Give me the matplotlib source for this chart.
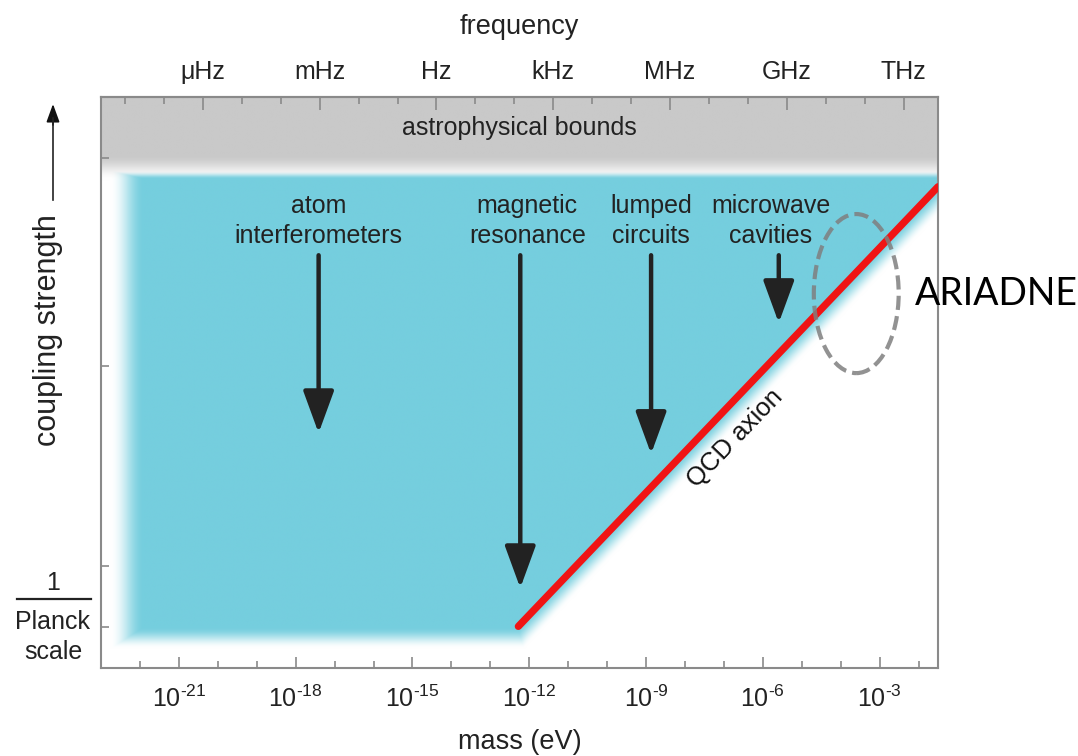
import numpy as np
import matplotlib
matplotlib.use('Agg')
import matplotlib.pyplot as plt
from matplotlib.patches import Ellipse
from matplotlib.lines import Line2D

plt.rcParams['font.family'] = ['Liberation Sans', 'DejaVu Sans']
plt.rcParams['mathtext.fontset'] = 'custom'
plt.rcParams['mathtext.rm'] = 'Liberation Sans'
plt.rcParams['mathtext.it'] = 'Liberation Sans:italic'

# axis ranges: log10 mass [eV] and log10 coupling relative to 1/M_Planck
mass_lim = (-23.0, -1.5)
coup_lim = (-1.0, 13.0)
mass_ticks = [-21, -18, -15, -12, -9, -6, -3]
coup_ticks = [0.0, 1.5, 6.4, 11.5]

# frequency axis: log10(Hz) = log10(eV) + log10(2.418e14)
ev_to_hz = np.log10(2.418e14)
freq_ticks = [-6, -3, 0, 3, 6, 9, 12]
freq_labels = ['μHz', 'mHz', 'Hz', 'kHz', 'MHz', 'GHz', 'THz']

# searchable region and astrophysical limit
region_left = -21.9
region_bottom = 0.0
region_top = 11.0
astro_bound = 11.6

# QCD axion band: g ~ m
qcd_mass = [-12.28, -1.5]
qcd_offset = 12.3

# experiments: label, arrow position, arrow start, arrow tip
exp_labels = ['atom\ninterferometers', 'magnetic\nresonance', 'lumped\ncircuits', 'microwave\ncavities']
exp_label_x = [-17.41, -12.05, -8.87, -5.79]
exp_arrow_x = [-17.41, -12.23, -8.87, -5.59]
exp_arrow_top = [9.12, 9.12, 9.12, 9.12]
exp_arrow_tip = [4.76, 0.96, 4.25, 7.46]

# ARIADNE reach
ariadne_center = (-3.60, 8.18)
ariadne_size = (2.18, 3.90)

cyan = np.array([117, 206, 222]) / 255.0
gray = np.array([201, 201, 201]) / 255.0
ink = '#222222'

fig = plt.figure(figsize=(10.78, 7.56), dpi=100)
ax = fig.add_axes([101/1078, 1 - 668/756, 837/1078, 571/756])
ax.set_xlim(mass_lim)
ax.set_ylim(coup_lim)

# pixels per decade, used for the soft edges
ppx = 837 / (mass_lim[1] - mass_lim[0])
ppy = 571 / (coup_lim[1] - coup_lim[0])

xs = np.linspace(mass_lim[0], mass_lim[1], 900)
ys = np.linspace(coup_lim[0], coup_lim[1], 620)
X, Y = np.meshgrid(xs, ys)

def soft(d):
    d = np.clip(d, 0, 1)
    return 0.5 * (1 + np.cos(np.pi * d))

# distance outside the region, scaled by the fade width of each edge
d = np.maximum.reduce([
    (region_left - X) * ppx / 34.0,
    (region_bottom - Y) * ppy / 22.0,
    (X + qcd_offset - Y) * ppy * 0.69 / 20.0,
    (Y - region_top) * ppy / 8.0,
])
a_cyan = soft(d)
a_gray = soft((astro_bound - Y) * ppy / 26.0)

img = np.ones(X.shape + (3,))
img = img * (1 - a_gray[..., None]) + gray * a_gray[..., None]
img = img * (1 - a_cyan[..., None]) + cyan * a_cyan[..., None]
ax.imshow(img, extent=[*mass_lim, *coup_lim], origin='lower', aspect='auto',
          interpolation='bilinear', zorder=0)

ax.text(np.mean(mass_lim), 12.25, 'astrophysical bounds', ha='center', va='center',
        fontsize=18, color=ink)

# QCD axion line
qm = np.array(qcd_mass)
ax.plot(qm, qm + qcd_offset, color='#f01414', lw=5.2, solid_capstyle='round', zorder=3)
ax.text(-6.70, 4.62, 'QCD axion', rotation=46, ha='center', va='center',
        fontsize=18.5, color='#111111', rotation_mode='anchor')

for lab, lx, x, y0, y1 in zip(exp_labels, exp_label_x, exp_arrow_x, exp_arrow_top, exp_arrow_tip):
    ax.text(lx, 9.96, lab, ha='center', va='center', fontsize=18, color=ink,
            linespacing=1.3)
    ax.annotate('', xy=(x, y1), xytext=(x, y0),
                arrowprops=dict(arrowstyle='-|>,head_length=2.6,head_width=0.95',
                                color=ink, lw=3.2, shrinkA=0, shrinkB=0))

ax.add_patch(Ellipse(ariadne_center, *ariadne_size, fill=False, ec='#7f7f7f',
                     lw=3, ls=(0, (3.4, 1.5)), alpha=0.85, zorder=4))
fig.text(996/1078, 1 - 305/756, 'ARIADNE', family='Lato', fontsize=27,
         ha='center', va='baseline', color='black')

# bottom mass axis
ax.set_xticks(mass_ticks)
ax.set_xticklabels([r'$\mathregular{10^{\text{-}%d}}$' % -t for t in mass_ticks], fontsize=18)
ax.set_xticks(np.arange(-22, -1), minor=True)
ax.set_yticks(coup_ticks)
ax.set_yticklabels([])
ax.tick_params(which='both', direction='in', color='#8a8a8a', width=1.2, top=False, right=False,
               labelcolor=ink)
ax.tick_params(axis='x', which='major', length=8, pad=13)
ax.tick_params(axis='x', which='minor', length=5)
ax.tick_params(axis='y', length=6)
ax.set_xlabel('mass (eV)', fontsize=19.5, labelpad=12, color=ink)
for s in ax.spines.values():
    s.set_color('#8a8a8a')
    s.set_linewidth(1.5)

# top frequency axis
sec = ax.secondary_xaxis('top', functions=(lambda m: m + ev_to_hz, lambda f: f - ev_to_hz))
sec.set_xticks(freq_ticks)
sec.set_xticklabels(freq_labels, fontsize=18)
sec.set_xticks(np.arange(-8, 14), minor=True)
sec.tick_params(which='both', direction='in', color='#8a8a8a', width=1.2, labelcolor=ink)
sec.tick_params(which='major', length=9, pad=9)
sec.tick_params(which='minor', length=5)
sec.spines['top'].set_color('#8a8a8a')
sec.spines['top'].set_linewidth(1.5)
sec.set_xlabel('frequency', fontsize=19.5, labelpad=19, color=ink)

# coupling axis label with arrow
fig.text(48/1078, 1 - 330/756, 'coupling strength', rotation=90, ha='center', va='center',
         fontsize=22, color=ink)
fig.add_artist(Line2D([53/1078, 53/1078], [1 - 200/756, 1 - 118/756], color=ink, lw=1.2))
ax.annotate('', xy=(53, 756 - 104), xytext=(53, 756 - 125), xycoords='figure pixels',
            textcoords='figure pixels',
            arrowprops=dict(arrowstyle='-|>,head_length=1.1,head_width=0.4', color='#111111',
                            lw=1.2, shrinkA=0, shrinkB=0))

# 1 / Planck scale at the bottom coupling tick
fig.text(53/1078, 1 - 583/756, '1', ha='center', va='center', fontsize=18, color=ink)
fig.add_artist(Line2D([17/1078, 91/1078], [1 - 599/756, 1 - 599/756], color=ink, lw=1.6))
fig.text(53/1078, 1 - 637/756, 'Planck\nscale', ha='center', va='center', fontsize=18,
         color=ink, linespacing=1.3)

fig.savefig('out.png', dpi=100)
